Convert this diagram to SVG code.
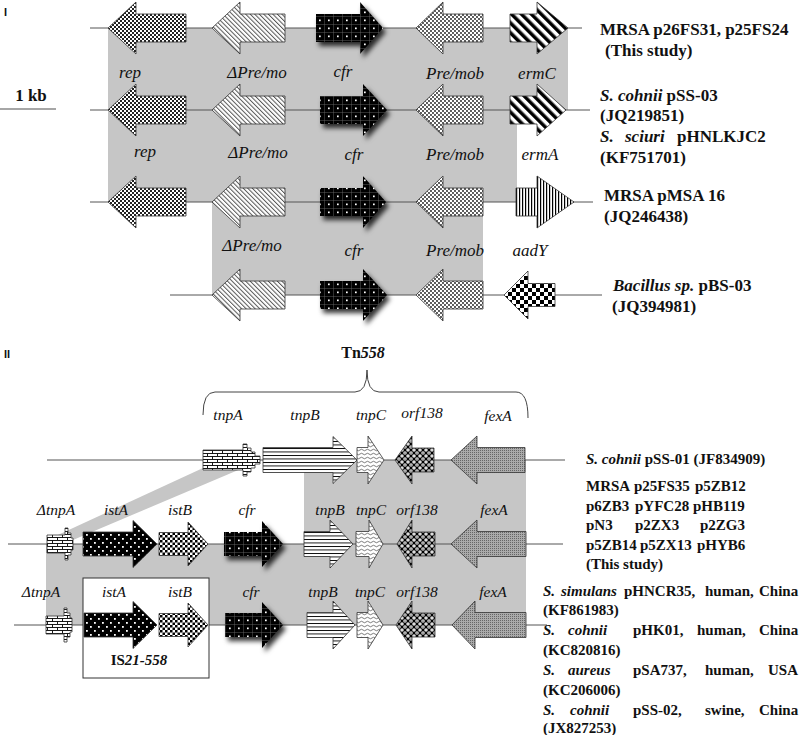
<svg xmlns="http://www.w3.org/2000/svg" width="800" height="735" viewBox="0 0 800 735">
<style>
.ln{stroke:#555;stroke-width:1;fill:none}
.band{fill:#c6c6c6}
.ar{stroke:#333;stroke-width:0.8}
.lab{font-family:"Liberation Serif","Times New Roman",serif;font-style:italic;font-size:17px;text-anchor:middle;fill:#111}
.lab2{font-family:"Liberation Serif","Times New Roman",serif;font-style:italic;font-size:15.5px;text-anchor:middle;fill:#111}
.rt{font-family:"Liberation Serif","Times New Roman",serif;font-weight:bold;font-size:17px;fill:#111}
.rt2{font-family:"Liberation Serif","Times New Roman",serif;font-weight:bold;font-size:15px;fill:#111}
.it{font-style:italic}
.pn{font-family:"Liberation Sans",sans-serif;font-weight:bold;font-size:11px;fill:#111}
</style>
<defs>
<pattern id="pRep" width="4" height="4" patternUnits="userSpaceOnUse"><rect width="4" height="4" fill="#fff"/><rect width="2" height="2" fill="#222"/><rect x="2" y="2" width="2" height="2" fill="#222"/></pattern>
<pattern id="pDpre" width="3.2" height="10" patternUnits="userSpaceOnUse" patternTransform="rotate(-45)"><rect width="3.2" height="10" fill="#fff"/><rect width="1" height="10" fill="#555"/></pattern>
<pattern id="pCfr" width="9" height="8" patternUnits="userSpaceOnUse"><rect width="9" height="8" fill="#000"/><path d="M0,0.25H9M0.25,0V8" stroke="#777" stroke-width="0.5"/><rect x="4" y="3.5" width="1.7" height="1.7" fill="#fff"/></pattern>
<pattern id="pPre" width="4" height="4" patternUnits="userSpaceOnUse"><rect width="4" height="4" fill="#fff"/><circle cx="1" cy="1" r="0.9" fill="#111"/><circle cx="3" cy="3" r="0.9" fill="#111"/></pattern>
<pattern id="pErm" width="7" height="10" patternUnits="userSpaceOnUse" patternTransform="rotate(-45)"><rect width="7" height="10" fill="#fff"/><rect width="3.5" height="10" fill="#000"/></pattern>
<pattern id="pAad" width="3" height="3" patternUnits="userSpaceOnUse"><rect width="3" height="3" fill="#fff"/><rect width="1.2" height="3" fill="#000"/></pattern>
<pattern id="pBac" width="8" height="8" patternUnits="userSpaceOnUse"><rect width="8" height="8" fill="#fff"/><rect width="4" height="4" fill="#000"/><rect x="4" y="4" width="4" height="4" fill="#000"/></pattern>
<pattern id="pBrick" width="10" height="6" patternUnits="userSpaceOnUse"><rect width="10" height="6" fill="#fff"/><path d="M0,0.5H10M0,3.5H10M2.5,0.5V3.5M7.5,3.5V6.5" stroke="#000" stroke-width="0.9"/></pattern>
<pattern id="pTnpB" width="4" height="3.5" patternUnits="userSpaceOnUse"><rect width="4" height="3.5" fill="#fff"/><rect width="4" height="0.9" fill="#000"/></pattern>
<pattern id="pTnpC" width="6" height="4" patternUnits="userSpaceOnUse"><rect width="6" height="4" fill="#fff"/><path d="M0,2Q1.5,0.5 3,2T6,2" stroke="#444" stroke-width="0.7" fill="none"/></pattern>
<pattern id="pOrf" width="6" height="6" patternUnits="userSpaceOnUse"><rect width="6" height="6" fill="#000"/><circle cx="3" cy="3" r="1.8" fill="#ddd"/><circle cx="0" cy="0" r="1.8" fill="#ddd"/><circle cx="6" cy="0" r="1.8" fill="#ddd"/><circle cx="0" cy="6" r="1.8" fill="#ddd"/><circle cx="6" cy="6" r="1.8" fill="#ddd"/><circle cx="3" cy="3" r="0.6" fill="#000"/></pattern>
<pattern id="pFex" width="2" height="2" patternUnits="userSpaceOnUse"><rect width="2" height="2" fill="#aaa"/><rect width="1" height="1" fill="#666"/></pattern>
<pattern id="pIstA" width="8" height="8" patternUnits="userSpaceOnUse"><rect width="8" height="8" fill="#000"/><rect x="2" y="2" width="1.8" height="1.8" fill="#fff"/><rect x="6" y="6" width="1.8" height="1.8" fill="#fff"/></pattern>
<pattern id="pIstB" width="5" height="5" patternUnits="userSpaceOnUse"><rect width="5" height="5" fill="#fff"/><rect width="2.5" height="2.5" fill="#000"/><rect x="2.5" y="2.5" width="2.5" height="2.5" fill="#000"/></pattern>
<filter id="sh" x="-20%" y="-20%" width="150%" height="160%"><feDropShadow dx="3" dy="4" stdDeviation="2.5" flood-color="#000" flood-opacity="0.8"/></filter>
</defs>
<rect width="800" height="735" fill="#fff"/>

<text class="pn" x="4" y="16">I</text>
<text class="pn" x="4" y="358">II</text>

<g id="connectors">
<rect class="band" x="108" y="28" width="460" height="82"/>
<rect class="band" x="108" y="110" width="409" height="92"/>
<rect class="band" x="212" y="202" width="271" height="93"/>
<rect class="band" x="304" y="460" width="222" height="84"/>
<rect class="band" x="46" y="544" width="480" height="81"/>
<polygon class="band" points="203,468 243,468 73,540 47,540"/>
<line class="ln" x1="90" y1="28" x2="582" y2="28"/>
<line class="ln" x1="90" y1="110" x2="590" y2="110"/>
<line class="ln" x1="90" y1="202" x2="593" y2="202"/>
<line class="ln" x1="170" y1="295" x2="602" y2="295"/>
<line class="ln" x1="47" y1="460" x2="565" y2="460"/>
<line class="ln" x1="8" y1="544" x2="563" y2="544"/>
<line class="ln" x1="14" y1="625" x2="547" y2="625"/>
</g>

<g id="scale">
<line x1="0" y1="109" x2="56" y2="109" stroke="#888" stroke-width="1.5"/>
<text class="rt" x="31" y="101" text-anchor="middle">1 kb</text>
</g>

<!-- Panel I row 1 -->
<g id="r1-rep"><polygon class="ar" fill="url(#pRep)" points="108,28 136,2 136,14 186,14 186,42 136,42 136,54"/><text class="lab" x="130" y="78">rep</text></g>
<g id="r1-dpre"><polygon class="ar" fill="url(#pDpre)" points="212,28 240,2 240,14 285,14 285,42 240,42 240,54"/><text class="lab" x="257" y="78">ΔPre/mo</text></g>
<g id="r1-cfr"><polygon fill="url(#pCfr)" filter="url(#sh)" points="316,14 360,14 360,2 383,28 360,54 360,42 316,42"/><text class="lab" x="343" y="77">cfr</text></g>
<g id="r1-pre"><polygon class="ar" fill="url(#pPre)" points="416,28 443,2 443,14 483,14 483,42 443,42 443,54"/><text class="lab" x="455" y="79">Pre/mob</text></g>
<g id="r1-erm"><polygon class="ar" fill="url(#pErm)" points="510,14 537,14 537,2 568,28 537,54 537,42 510,42"/><text class="lab" x="537" y="79">ermC</text></g>
<g id="r1-name"><text class="rt" x="600" y="35">MRSA p26FS31, p25FS24</text><text class="rt" x="605" y="56">(This study)</text></g>

<!-- row 2 -->
<g id="r2-rep"><polygon class="ar" fill="url(#pRep)" points="108,110 136,84 136,96 186,96 186,124 136,124 136,136"/><text class="lab" x="145" y="157">rep</text></g>
<g id="r2-dpre"><polygon class="ar" fill="url(#pDpre)" points="212,110 240,84 240,96 285,96 285,124 240,124 240,136"/><text class="lab" x="258" y="158">ΔPre/mo</text></g>
<g id="r2-cfr"><polygon fill="url(#pCfr)" filter="url(#sh)" points="320,96 363,96 363,84 387,110 363,136 363,124 320,124"/><text class="lab" x="354" y="160">cfr</text></g>
<g id="r2-pre"><polygon class="ar" fill="url(#pPre)" points="416,110 443,84 443,96 483,96 483,124 443,124 443,136"/><text class="lab" x="455" y="160">Pre/mob</text></g>
<g id="r2-erm"><polygon class="ar" fill="url(#pErm)" points="510,96 537,96 537,84 566,110 537,136 537,124 510,124"/><text class="lab" x="540" y="160">ermA</text></g>
<g id="r2-name"><text class="rt" x="600" y="101"><tspan class="it">S. cohnii</tspan> pSS-03</text><text class="rt" x="600" y="121">(JQ219851)</text><text class="rt" y="142"><tspan class="it" x="600">S.</tspan><tspan class="it" x="625">sciuri</tspan><tspan x="677">pHNLKJC2</tspan></text><text class="rt" x="600" y="163">(KF751701)</text></g>

<!-- row 3 -->
<g id="r3-rep"><polygon class="ar" fill="url(#pRep)" points="108,202 136,176 136,188 186,188 186,216 136,216 136,228"/></g>
<g id="r3-dpre"><polygon class="ar" fill="url(#pDpre)" points="212,202 240,176 240,188 285,188 285,216 240,216 240,228"/><text class="lab" x="252" y="251">ΔPre/mo</text></g>
<g id="r3-cfr"><polygon fill="url(#pCfr)" filter="url(#sh)" points="320,188 363,188 363,176 386,202 363,228 363,216 320,216"/><text class="lab" x="354" y="256">cfr</text></g>
<g id="r3-pre"><polygon class="ar" fill="url(#pPre)" points="416,202 443,176 443,188 483,188 483,216 443,216 443,228"/><text class="lab" x="455" y="256">Pre/mob</text></g>
<g id="r3-aad"><polygon class="ar" fill="url(#pAad)" points="516,188 537,188 537,176 574,202 537,228 537,216 516,216"/><text class="lab" x="530" y="256">aadY</text></g>
<g id="r3-name"><text class="rt" x="604" y="201">MRSA pMSA 16</text><text class="rt" x="604" y="222">(JQ246438)</text></g>

<!-- row 4 -->
<g id="r4-dpre"><polygon class="ar" fill="url(#pDpre)" points="212,295 240,269 240,281 285,281 285,309 240,309 240,321"/></g>
<g id="r4-cfr"><polygon fill="url(#pCfr)" filter="url(#sh)" points="320,281 363,281 363,269 387,295 363,321 363,309 320,309"/></g>
<g id="r4-pre"><polygon class="ar" fill="url(#pPre)" points="416,295 443,269 443,281 483,281 483,309 443,309 443,321"/></g>
<g id="r4-bac"><polygon class="ar" fill="url(#pBac)" points="504,295 528,271 528,283.5 555,283.5 555,306.5 528,306.5 528,319"/></g>
<g id="r4-name"><text class="rt" x="613" y="291"><tspan class="it">Bacillus sp.</tspan> pBS-03</text><text class="rt" x="612" y="312">(JQ394981)</text></g>

<!-- Panel II -->
<g id="tn558"><path d="M203,415Q203,392 215,392L355,392Q367,392 367,370Q367,392 379,392L516,392Q528,392 528,418" fill="none" stroke="#444" stroke-width="1"/><text class="rt2" x="363" y="358" text-anchor="middle" style="font-size:16px">Tn<tspan class="it">558</tspan></text></g>

<!-- row A -->
<g id="a-tnpA"><path class="ar" fill="url(#pBrick)" d="M203,450H243V444H247V448H251V452H255V456H260V464H255V468H251V472H247V476H243V470H203Z"/><text class="lab2" x="228" y="420">tnpA</text></g>
<g id="a-tnpB"><polygon class="ar" fill="url(#pTnpB)" points="263,447.5 333,447.5 333,436.5 357,460 333,483.5 333,472.5 263,472.5"/><text class="lab2" x="305" y="420">tnpB</text></g>
<g id="a-tnpC"><polygon class="ar" fill="url(#pTnpC)" points="357,447.5 368,447.5 368,436 384,460 368,484 368,472.5 357,472.5"/><text class="lab2" x="371" y="420">tnpC</text></g>
<g id="a-orf"><polygon class="ar" fill="url(#pOrf)" points="395,460 412,436 412,448 434,448 434,472 412,472 412,484"/><text class="lab2" x="422" y="418">orf138</text></g>
<g id="a-fex"><polygon class="ar" fill="url(#pFex)" points="451,460 477,436 477,447.5 525,447.5 525,472.5 477,472.5 477,484"/><text class="lab2" x="498" y="421">fexA</text></g>
<g id="a-name"><text class="rt2" x="586" y="464"><tspan class="it">S. cohnii</tspan> pSS-01 (JF834909)</text></g>

<!-- row B -->
<g id="b-dtnpA"><path class="ar" fill="url(#pBrick)" d="M47,535H65V528H68V533H71V538H73V550H71V555H68V560H65V553H47Z"/><text class="lab2" x="56" y="515">ΔtnpA</text></g>
<g id="b-istA"><polygon class="ar" fill="url(#pIstA)" points="83,532 133,532 133,520.5 157,544 133,567.5 133,556 83,556"/><text class="lab2" x="116" y="515">istA</text></g>
<g id="b-istB"><polygon class="ar" fill="url(#pIstB)" points="159,532.5 188,532.5 188,522 208,544 188,566 188,555.5 159,555.5"/><text class="lab2" x="180" y="515">istB</text></g>
<g id="b-cfr"><polygon fill="url(#pCfr)" filter="url(#sh)" points="224,532 262,532 262,521 283,544 262,567 262,556 224,556"/><text class="lab2" x="247" y="515">cfr</text></g>
<g id="b-tnpB"><polygon class="ar" fill="url(#pTnpB)" points="304,531.5 330,531.5 330,520 353,544 330,568 330,556.5 304,556.5"/><text class="lab2" x="330" y="515">tnpB</text></g>
<g id="b-tnpC"><polygon class="ar" fill="url(#pTnpC)" points="356,531.5 369,531.5 369,520 383,544 369,568 369,556.5 356,556.5"/><text class="lab2" x="371" y="515">tnpC</text></g>
<g id="b-orf"><polygon class="ar" fill="url(#pOrf)" points="397,544 412,520 412,532 435,532 435,556 412,556 412,568"/><text class="lab2" x="417" y="515">orf138</text></g>
<g id="b-fex"><polygon class="ar" fill="url(#pFex)" points="451,544 477,520 477,531.5 526,531.5 526,556.5 477,556.5 477,568"/><text class="lab2" x="494" y="515">fexA</text></g>
<g id="b-name">
<text class="rt2" y="491"><tspan x="586">MRSA</tspan><tspan x="634">p25FS35</tspan><tspan x="695">p5ZB12</tspan></text>
<text class="rt2" y="510.5"><tspan x="586">p6ZB3</tspan><tspan x="635">pYFC28</tspan><tspan x="693">pHB119</tspan></text>
<text class="rt2" y="530"><tspan x="586">pN3</tspan><tspan x="635">p2ZX3</tspan><tspan x="700">p2ZG3</tspan></text>
<text class="rt2" y="549.5"><tspan x="586">p5ZB14</tspan><tspan x="640">p5ZX13</tspan><tspan x="697">pHYB6</tspan></text>
<text class="rt2" x="586" y="569">(This study)</text>
</g>

<!-- row C -->
<g id="c-dtnpA"><path class="ar" fill="url(#pBrick)" d="M46,616H64V608H67V613H70V618H72V632H70V637H67V642H64V634H46Z"/><text class="lab2" x="41" y="597">ΔtnpA</text></g>
<g id="c-is"><rect x="83" y="578" width="126" height="100" fill="#fff" stroke="#333" stroke-width="1"/><text class="rt2" x="139" y="665" text-anchor="middle">IS<tspan class="it">21-558</tspan></text></g>
<g id="c-istA"><polygon class="ar" fill="url(#pIstA)" points="84,613 133,613 133,601.5 157,625 133,648.5 133,637 84,637"/><text class="lab2" x="114" y="597">istA</text></g>
<g id="c-istB"><polygon class="ar" fill="url(#pIstB)" points="159,613.5 188,613.5 188,603 208,625 188,647 188,636.5 159,636.5"/><text class="lab2" x="180" y="597">istB</text></g>
<g id="c-cfr"><polygon fill="url(#pCfr)" filter="url(#sh)" points="225,613 262,613 262,602 283,625 262,648 262,637 225,637"/><text class="lab2" x="251" y="597">cfr</text></g>
<g id="c-tnpB"><polygon class="ar" fill="url(#pTnpB)" points="307,612.5 333,612.5 333,601 355,625 333,649 333,637.5 307,637.5"/><text class="lab2" x="323" y="597">tnpB</text></g>
<g id="c-tnpC"><polygon class="ar" fill="url(#pTnpC)" points="357,612.5 368,612.5 368,601 383,625 368,649 368,637.5 357,637.5"/><text class="lab2" x="370" y="597">tnpC</text></g>
<g id="c-orf"><polygon class="ar" fill="url(#pOrf)" points="396,625 412,601 412,613 435,613 435,637 412,637 412,649"/><text class="lab2" x="417" y="597">orf138</text></g>
<g id="c-fex"><polygon class="ar" fill="url(#pFex)" points="452,625 475,601 475,612.5 526,612.5 526,637.5 475,637.5 475,649"/><text class="lab2" x="493" y="597">fexA</text></g>
<g id="c-name">
<text class="rt2" y="596"><tspan class="it" x="543">S.</tspan><tspan class="it" x="561">simulans</tspan><tspan x="624">pHNCR35,</tspan><tspan x="705">human,</tspan><tspan x="759">China</tspan></text>
<text class="rt2" x="543" y="615">(KF861983)</text>
<text class="rt2" y="635"><tspan class="it" x="543">S.</tspan><tspan class="it" x="568">cohnii</tspan><tspan x="633">pHK01,</tspan><tspan x="697">human,</tspan><tspan x="759">China</tspan></text>
<text class="rt2" x="543" y="655">(KC820816)</text>
<text class="rt2" y="675"><tspan class="it" x="543">S.</tspan><tspan class="it" x="568">aureus</tspan><tspan x="633">pSA737,</tspan><tspan x="705">human,</tspan><tspan x="768">USA</tspan></text>
<text class="rt2" x="543" y="695">(KC206006)</text>
<text class="rt2" y="715"><tspan class="it" x="543">S.</tspan><tspan class="it" x="570">cohnii</tspan><tspan x="633">pSS-02,</tspan><tspan x="705">swine,</tspan><tspan x="759">China</tspan></text>
<text class="rt2" x="543" y="733">(JX827253)</text>
</g>
</svg>
